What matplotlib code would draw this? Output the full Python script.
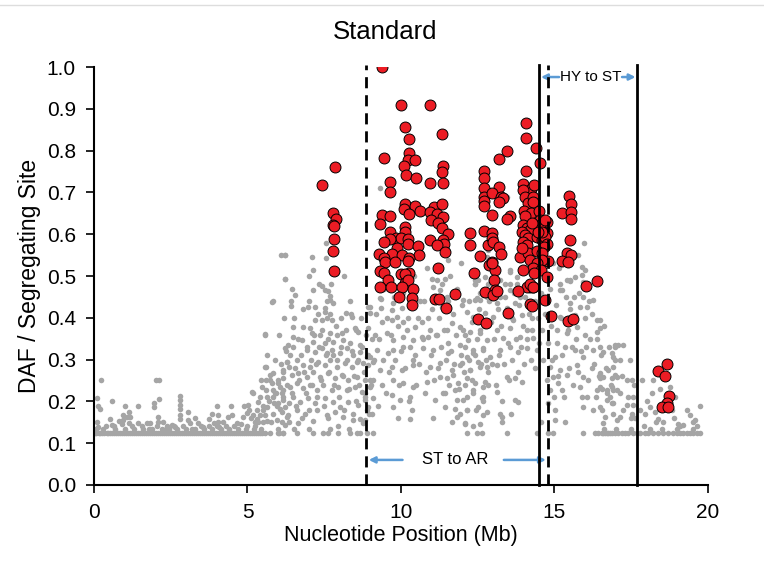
import matplotlib.pyplot as plt
from matplotlib.lines import Line2D

plt.rcParams['font.family'] = ['Liberation Sans', 'DejaVu Sans']

# baseline rows of non-significant sites (DAF ~0.125)
BASE_DAF = 0.125
BASE2_DAF = 0.133
base_x = [0.02, 0.08, 0.15, 0.21, 0.27, 0.34, 0.41, 0.47, 0.52, 0.59, 0.66, 0.72, 0.79, 0.85, 0.91,
          0.98, 1.04, 1.11, 1.18, 1.24, 1.30, 1.37, 1.43, 1.50, 1.57, 1.63, 1.69, 1.76, 1.83, 1.89,
          1.95, 2.02, 2.09, 2.15, 2.21, 2.28, 2.35, 2.41, 2.47, 2.54, 2.61, 2.67, 2.73, 2.80, 2.87,
          2.93, 2.99, 3.06, 3.13, 3.19, 3.25, 3.32, 3.39, 3.45, 3.51, 3.58, 3.65, 3.71, 3.77, 3.84,
          3.91, 3.97, 4.03, 4.10, 4.17, 4.23, 4.29, 4.36, 4.43, 4.49, 4.55, 4.62, 4.69, 4.75, 4.81,
          4.88, 4.95, 5.01, 5.07, 5.14, 5.21, 5.27, 5.33, 5.40, 5.47, 5.57, 5.73, 6.00, 6.04, 6.15,
          6.17, 6.60, 7.14, 7.47, 7.63, 7.96, 8.34, 8.56, 8.66, 8.88, 9.10, 12.14, 12.46, 12.63,
          13.44, 14.42, 14.80, 14.96, 15.94, 16.32, 16.43, 16.54, 16.59, 16.64, 16.70, 16.75, 16.81,
          16.86, 16.97, 17.08, 17.19, 17.30, 17.40, 17.57, 17.68, 17.79, 17.95, 18.06, 18.22, 18.38,
          18.55, 18.71, 18.87, 18.98, 19.09, 19.20, 19.30, 19.41, 19.52, 19.63, 19.74]
base2_x = [0.30, 0.70, 1.00, 1.30, 1.60, 1.90, 2.20, 2.45, 2.70, 3.00, 3.30, 3.60, 3.85, 4.15,
           4.40, 4.70, 4.95, 5.20, 5.45, 6.00, 6.50, 7.00, 7.70, 8.30, 16.60, 17.00, 17.50, 18.10,
           18.50, 19.00, 19.50]

# scattered sites, 0 - 6.4 Mb
low_x = [0.09, 0.14, 0.20, 0.23, 0.11, 0.14, 0.52, 0.58, 0.82, 0.95, 0.95, 1.07, 1.15, 1.17, 1.15,
         1.42, 1.42, 1.72, 1.82, 2.01, 2.13, 1.95, 1.95, 2.12, 2.09, 2.09, 2.39, 2.53, 2.64, 2.80,
         2.80, 2.80, 2.80, 2.80, 2.80, 3.07, 3.07, 3.13, 3.40, 3.56, 3.76, 3.91, 4.00, 4.05, 4.05,
         4.08, 4.21, 4.37, 4.49, 4.65, 4.86, 4.97, 5.03, 5.14, 5.19, 5.06, 5.19, 5.24, 5.30, 5.35,
         5.41, 5.30, 5.57, 5.59, 5.59, 5.59, 5.63, 5.57, 5.73, 5.79, 5.81, 5.82, 5.84, 5.87, 5.93,
         6.00, 6.06, 6.00, 6.11, 6.16, 6.22, 6.22, 6.28, 6.33, 6.16, 6.16, 6.16, 6.22, 6.11, 6.28,
         6.36, 6.36,
         0.05, 0.40, 0.65, 0.90, 1.25, 1.55, 1.80, 2.05, 2.35, 2.60, 2.90, 3.20, 3.50, 3.75, 4.00,
         4.30, 4.55, 4.80, 5.00, 5.25, 5.50, 4.90, 5.10, 5.40, 5.45, 5.50, 5.35, 3.30, 2.25, 1.00,
         0.60, 3.85, 4.45]
low_y = [0.209, 0.189, 0.181, 0.251, 0.151, 0.139, 0.157, 0.144, 0.154, 0.167, 0.156, 0.163, 0.175,
         0.163, 0.148, 0.189, 0.148, 0.148, 0.148, 0.251, 0.251, 0.197, 0.187, 0.205, 0.163, 0.151,
         0.141, 0.144, 0.139, 0.214, 0.203, 0.191, 0.183, 0.167, 0.159, 0.175, 0.156, 0.148, 0.148,
         0.139, 0.159, 0.149, 0.189, 0.167, 0.151, 0.139, 0.151, 0.163, 0.167, 0.148, 0.163, 0.173,
         0.191, 0.223, 0.219, 0.179, 0.167, 0.151, 0.179, 0.199, 0.167, 0.159, 0.360, 0.283, 0.251,
         0.227, 0.187, 0.167, 0.263, 0.243, 0.438, 0.227, 0.211, 0.195, 0.219, 0.251, 0.235, 0.195,
         0.175, 0.227, 0.550, 0.492, 0.295, 0.335, 0.275, 0.255, 0.211, 0.187, 0.151, 0.163, 0.283,
         0.195,
         0.135, 0.140, 0.140, 0.145, 0.140, 0.140, 0.135, 0.140, 0.135, 0.140, 0.140, 0.135, 0.140,
         0.140, 0.140, 0.140, 0.140, 0.145, 0.140, 0.140, 0.150, 0.190, 0.160, 0.210, 0.250, 0.190,
         0.150, 0.160, 0.150, 0.190, 0.200, 0.170, 0.190]

# rising cloud, 5.4 - 9.1 Mb
rise_x = [7.56, 7.09, 7.55, 6.22, 7.12, 8.14, 6.22, 7.42, 7.52, 7.63, 7.14, 7.69, 6.55, 5.82, 6.41,
          6.41, 6.98, 7.20, 7.52, 7.80, 7.69, 8.34, 8.94, 8.99, 7.52, 7.69, 7.58, 7.74, 8.21, 8.39,
          7.20, 7.42, 6.49, 6.82, 7.04, 7.09, 7.36, 7.69, 7.90, 8.07, 8.50, 8.61, 8.94, 5.57, 6.49,
          6.76, 7.14, 7.52, 7.80, 8.12, 8.34, 8.66, 6.22, 6.49, 6.93, 7.20, 7.42, 7.58, 7.74, 8.01,
          8.23, 8.45, 8.66, 8.99, 6.28, 6.60, 6.82, 7.04, 7.31, 7.52, 7.69, 7.90, 8.18, 8.39, 8.56,
          8.77, 9.10, 5.57, 5.84, 6.17, 6.44, 6.66, 6.93, 7.14, 7.36, 7.63, 7.85, 8.07, 8.29, 8.56,
          8.83, 9.10, 5.46, 5.73, 6.00, 6.38, 6.60, 6.82, 7.04, 7.25, 7.47, 7.74, 7.96, 8.23, 8.50,
          8.72, 8.99, 5.62, 5.89, 6.17, 6.49, 6.71, 6.98, 7.20, 7.52, 7.80, 8.01, 8.28, 8.61, 8.83,
          5.52, 5.84, 6.06, 6.33, 6.60, 6.87, 7.25, 7.58, 7.85, 8.12, 8.45, 8.66, 8.88, 5.62, 5.95,
          6.22, 6.66, 7.14, 7.63, 7.96, 8.45, 8.77,
          5.65, 5.70, 5.76, 5.90, 5.95, 6.03, 6.08, 6.12, 6.20, 6.25, 6.30, 6.35, 6.40, 6.46, 6.52,
          6.55, 6.58, 6.63, 6.68, 6.74, 6.78, 6.80, 6.85, 6.90, 6.95, 7.00, 7.02, 7.06, 7.10, 7.17,
          7.22, 7.28, 7.30, 7.34, 7.39, 7.44, 7.49, 7.55, 7.60, 7.62, 7.66, 7.72, 7.77, 7.82, 7.88,
          7.92, 7.98, 8.03, 8.06, 8.10, 8.16, 8.20, 8.25, 8.31, 8.36, 8.40, 8.47, 8.52, 8.55, 8.60,
          8.64, 8.70, 8.74, 8.79, 8.82, 8.85, 8.92, 8.97, 9.02, 9.06, 6.10, 6.45, 7.00, 7.33]
rise_y = [0.578, 0.546, 0.542, 0.550, 0.514, 0.500, 0.492, 0.475, 0.467, 0.463, 0.467, 0.452, 0.455,
          0.439, 0.439, 0.428, 0.427, 0.425, 0.424, 0.435, 0.443, 0.439, 0.427, 0.411, 0.415, 0.409,
          0.399, 0.395, 0.411, 0.403, 0.395, 0.395, 0.379, 0.377, 0.375, 0.364, 0.359, 0.363, 0.359,
          0.364, 0.375, 0.367, 0.375, 0.361, 0.355, 0.347, 0.343, 0.339, 0.343, 0.347, 0.339, 0.335,
          0.327, 0.331, 0.323, 0.319, 0.327, 0.315, 0.323, 0.315, 0.327, 0.311, 0.319, 0.307, 0.295,
          0.299, 0.287, 0.283, 0.295, 0.287, 0.299, 0.283, 0.291, 0.283, 0.295, 0.291, 0.295, 0.283,
          0.267, 0.271, 0.263, 0.267, 0.259, 0.271, 0.259, 0.267, 0.255, 0.263, 0.251, 0.259, 0.251,
          0.251, 0.235, 0.251, 0.243, 0.235, 0.243, 0.231, 0.239, 0.227, 0.239, 0.227, 0.235, 0.227,
          0.235, 0.223, 0.235, 0.211, 0.219, 0.203, 0.211, 0.199, 0.207, 0.195, 0.207, 0.199, 0.187,
          0.199, 0.191, 0.203, 0.179, 0.171, 0.183, 0.167, 0.179, 0.171, 0.179, 0.167, 0.175, 0.163,
          0.171, 0.159, 0.179, 0.152, 0.156, 0.144, 0.148, 0.152, 0.160, 0.140, 0.156, 0.148,
          0.31, 0.20, 0.15, 0.30, 0.19, 0.36, 0.29, 0.22, 0.40, 0.32, 0.24, 0.15, 0.31, 0.22, 0.40,
          0.28, 0.19, 0.35, 0.25, 0.31, 0.16, 0.42, 0.27, 0.22, 0.33, 0.18, 0.44, 0.30, 0.24, 0.36,
          0.29, 0.21, 0.41, 0.33, 0.25, 0.37, 0.19, 0.31, 0.44, 0.35, 0.27, 0.48, 0.31, 0.24, 0.38,
          0.30, 0.21, 0.40, 0.33, 0.26, 0.18, 0.37, 0.30, 0.23, 0.41, 0.32, 0.26, 0.20, 0.37, 0.30,
          0.24, 0.40, 0.33, 0.27, 0.21, 0.36, 0.31, 0.17, 0.24, 0.35, 0.55, 0.47, 0.50, 0.48]

# central cloud, 8.8 - 12.9 Mb
mid_x = [9.34, 9.34, 9.70, 9.86, 10.02, 9.37, 9.70, 10.08, 10.18, 10.46, 10.67, 10.94, 10.89, 9.15,
         9.53, 9.75, 10.08, 10.40, 10.67, 11.16, 11.49, 11.65, 11.92, 12.25, 12.57, 8.88, 9.21, 9.59,
         9.75, 10.08, 10.40, 10.73, 11.05, 11.54, 11.54, 11.92, 12.14, 12.36, 12.68, 8.94, 9.32, 9.70,
         10.02, 10.40, 10.94, 11.27, 11.65, 11.92, 12.25, 12.52, 12.79, 8.99, 9.37, 9.75, 10.08,
         10.40, 10.84, 11.27, 11.49, 11.70, 11.87, 12.14, 12.41, 12.74, 8.83, 9.10, 9.70, 9.97, 10.29,
         10.78, 11.11, 11.43, 11.76, 11.81, 12.14, 12.36, 12.68, 8.94, 9.04, 9.75, 10.35, 11.43,
         11.76, 11.92, 12.14, 12.52, 12.79, 8.83, 10.29, 11.81, 12.09, 12.57, 9.32, 11.00, 11.16,
         11.32, 11.43, 11.54, 11.05, 11.27, 11.49, 10.62, 11.32, 10.18, 9.75, 9.32, 8.99, 12.84, 12.79,
         12.41, 12.46, 12.68,
         9.12, 9.18, 9.24, 9.28, 9.42, 9.46, 9.50, 9.55, 9.62, 9.66, 9.78, 9.82, 9.90, 9.94, 10.00,
         10.05, 10.12, 10.22, 10.25, 10.30, 10.36, 10.45, 10.50, 10.55, 10.60, 10.72, 10.76, 10.80,
         10.88, 10.98, 11.02, 11.08, 11.13, 11.20, 11.24, 11.30, 11.36, 11.40, 11.46, 11.52, 11.58,
         11.62, 11.68, 11.72, 11.80, 11.84, 11.90, 11.95, 12.00, 12.05, 12.10, 12.20, 12.22, 12.30,
         12.32, 12.40, 12.44, 12.48, 12.55, 12.62, 12.66, 12.72, 12.76, 12.82, 12.88, 10.42, 10.85,
         11.60, 11.95, 9.90, 11.05, 11.65, 12.35]
mid_y = [0.444, 0.423, 0.419, 0.403, 0.423, 0.391, 0.395, 0.391, 0.371, 0.379, 0.391, 0.371, 0.355,
         0.359, 0.363, 0.347, 0.355, 0.347, 0.355, 0.359, 0.371, 0.387, 0.379, 0.367, 0.371, 0.307,
         0.323, 0.315, 0.323, 0.331, 0.299, 0.327, 0.323, 0.339, 0.315, 0.335, 0.307, 0.323, 0.327,
         0.287, 0.275, 0.283, 0.275, 0.287, 0.283, 0.291, 0.275, 0.287, 0.275, 0.295, 0.283, 0.251,
         0.239, 0.251, 0.243, 0.235, 0.247, 0.259, 0.255, 0.263, 0.243, 0.255, 0.243, 0.247, 0.219,
         0.207, 0.215, 0.203, 0.211, 0.219, 0.203, 0.219, 0.227, 0.203, 0.211, 0.219, 0.211, 0.187,
         0.171, 0.187, 0.179, 0.187, 0.183, 0.171, 0.179, 0.187, 0.175, 0.156, 0.157, 0.163, 0.147,
         0.147, 0.710, 0.494, 0.490, 0.482, 0.494, 0.538, 0.474, 0.466, 0.450, 0.439, 0.427, 0.482,
         0.435, 0.447, 0.427, 0.562, 0.546, 0.490, 0.447, 0.455,
         0.30, 0.41, 0.19, 0.35, 0.30, 0.47, 0.22, 0.40, 0.27, 0.36, 0.45, 0.30, 0.38, 0.24, 0.32,
         0.46, 0.28, 0.40, 0.20, 0.33, 0.43, 0.31, 0.24, 0.40, 0.29, 0.35, 0.44, 0.27, 0.40, 0.31,
         0.42, 0.25, 0.36, 0.28, 0.40, 0.33, 0.22, 0.37, 0.30, 0.44, 0.24, 0.32, 0.41, 0.29, 0.36,
         0.47, 0.23, 0.31, 0.43, 0.27, 0.36, 0.30, 0.44, 0.25, 0.39, 0.31, 0.18, 0.35, 0.42, 0.29,
         0.20, 0.38, 0.30, 0.24, 0.44, 0.50, 0.52, 0.50, 0.53, 0.16, 0.16, 0.15, 0.14]

# right cloud, 12 - 17.1 Mb
right_x = [13.55, 13.77, 13.55, 12.41, 12.41, 12.57, 12.03, 15.18, 15.18, 15.50, 15.89, 15.94, 16.27,
           15.83, 15.67, 15.18, 12.14, 12.36, 12.74, 13.01, 13.44, 13.66, 13.93, 14.26, 12.03, 12.19,
           12.57, 12.79, 13.12, 13.33, 13.55, 13.88, 14.09, 14.31, 15.07, 15.40, 15.72, 15.99, 16.37,
           16.37, 16.97, 12.09, 12.36, 12.68, 12.90, 13.22, 13.55, 13.82, 14.09, 14.42, 15.02, 15.34,
           15.67, 15.94, 16.27, 16.59, 16.92, 11.98, 12.25, 12.57, 12.84, 13.12, 13.44, 13.71, 13.93,
           14.85, 14.96, 15.18, 15.40, 15.72, 15.94, 16.21, 16.48, 16.75, 17.03, 12.09, 12.36, 12.68,
           13.12, 14.85, 15.13, 15.23, 15.83, 16.05, 16.37, 16.70, 16.92, 12.03, 12.14, 12.63, 13.71,
           13.82, 14.80, 15.02, 15.94, 16.27, 16.48, 16.86, 12.09, 12.68, 13.22, 13.28, 15.02, 16.64,
           16.59, 17.03, 15.89, 15.99, 15.67, 15.50, 15.40, 15.23, 15.94, 15.50, 16.05, 12.41, 12.41,
           12.52, 12.74, 12.84, 12.79, 12.57, 13.22, 13.39, 13.22, 13.12, 13.55, 13.55, 13.77, 13.88,
           13.71, 13.44,
           12.94, 12.97, 13.03, 13.08, 13.15, 13.18, 13.26, 13.30, 13.36, 13.40, 13.48, 13.52, 13.60,
           13.63, 13.68, 13.74, 13.80, 13.85, 13.90, 13.96, 14.00, 14.05, 14.12, 14.18, 14.22, 14.28,
           14.35, 14.38, 14.45, 14.48, 14.55, 14.60, 14.64, 14.70, 14.74, 14.78, 14.84, 14.90, 14.93,
           14.98, 15.04, 15.08, 15.12, 15.16, 15.22, 15.26, 15.30, 15.36, 15.44, 15.48, 15.52, 15.56,
           15.60, 15.64, 15.70, 15.76, 15.80, 15.86, 15.90, 15.98, 16.02, 16.08, 16.12, 16.16, 16.22,
           16.30, 16.34, 16.40, 16.45, 16.52, 16.56, 16.62, 16.68, 16.78, 16.84, 15.78, 15.95, 14.95,
           13.30, 13.58, 14.55, 15.35]
right_y = [0.510, 0.498, 0.482, 0.482, 0.443, 0.459, 0.443, 0.466, 0.482, 0.490, 0.502, 0.486, 0.443,
           0.427, 0.407, 0.403, 0.415, 0.403, 0.411, 0.403, 0.423, 0.395, 0.407, 0.399, 0.371, 0.347,
           0.363, 0.347, 0.371, 0.351, 0.375, 0.355, 0.371, 0.351, 0.371, 0.363, 0.379, 0.359, 0.395,
           0.367, 0.331, 0.331, 0.315, 0.323, 0.307, 0.323, 0.331, 0.319, 0.327, 0.323, 0.307, 0.331,
           0.323, 0.307, 0.323, 0.319, 0.307, 0.291, 0.275, 0.283, 0.271, 0.287, 0.259, 0.255, 0.247,
           0.283, 0.259, 0.275, 0.263, 0.287, 0.259, 0.279, 0.255, 0.275, 0.259, 0.239, 0.227, 0.235,
           0.223, 0.227, 0.243, 0.227, 0.235, 0.211, 0.227, 0.219, 0.227, 0.203, 0.179, 0.207, 0.203,
           0.199, 0.195, 0.179, 0.187, 0.179, 0.187, 0.195, 0.148, 0.167, 0.171, 0.163, 0.156, 0.163,
           0.148, 0.156, 0.522, 0.514, 0.498, 0.489, 0.490, 0.466, 0.450, 0.435, 0.427, 0.510, 0.482,
           0.490, 0.498, 0.482, 0.450, 0.443, 0.490, 0.482, 0.450, 0.435, 0.466, 0.514, 0.482, 0.450,
           0.435, 0.690,
           0.39, 0.29, 0.35, 0.24, 0.42, 0.31, 0.38, 0.20, 0.29, 0.45, 0.34, 0.25, 0.40, 0.30, 0.46,
           0.35, 0.27, 0.43, 0.33, 0.38, 0.29, 0.45, 0.35, 0.41, 0.30, 0.37, 0.44, 0.28, 0.40, 0.34,
           0.46, 0.37, 0.30, 0.41, 0.25, 0.34, 0.47, 0.38, 0.30, 0.21, 0.43, 0.34, 0.26, 0.52, 0.40,
           0.31, 0.21, 0.45, 0.37, 0.28, 0.42, 0.33, 0.24, 0.45, 0.35, 0.27, 0.46, 0.32, 0.21, 0.40,
           0.33, 0.25, 0.44, 0.35, 0.41, 0.29, 0.21, 0.35, 0.26, 0.31, 0.23, 0.38, 0.28, 0.33, 0.24,
           0.55, 0.58, 0.53, 0.15, 0.17, 0.15, 0.15]

# tail, 16.5 - 20 Mb
tail_x = [16.48, 16.48, 16.48, 16.97, 17.08, 16.86, 16.97, 16.92, 16.48, 16.59, 16.86, 16.97, 17.35,
          17.51, 16.48, 16.70, 16.86, 17.03, 16.81, 17.13, 17.40, 17.57, 16.70, 16.92, 17.35, 17.57,
          16.54, 16.92, 17.24, 17.13, 17.51, 17.95, 18.22, 18.17, 18.11, 18.27, 18.38, 18.76, 18.93,
          18.82, 19.03, 19.41, 19.58, 19.74, 19.20, 17.23,
          17.15, 17.20, 17.45, 17.48, 17.60, 17.62, 17.80, 17.85, 17.90, 18.00, 18.30, 18.45, 18.55,
          18.90, 19.10, 19.30, 19.50, 19.65]
tail_y = [0.395, 0.375, 0.331, 0.335, 0.335, 0.315, 0.299, 0.283, 0.267, 0.259, 0.255, 0.263, 0.251,
          0.251, 0.235, 0.227, 0.235, 0.227, 0.211, 0.219, 0.211, 0.211, 0.203, 0.195, 0.191, 0.191,
          0.179, 0.171, 0.179, 0.163, 0.171, 0.171, 0.251, 0.219, 0.187, 0.175, 0.159, 0.235, 0.211,
          0.179, 0.147, 0.167, 0.155, 0.189, 0.143, 0.335,
          0.30, 0.26, 0.30, 0.16, 0.24, 0.16, 0.18, 0.25, 0.14, 0.20, 0.15, 0.23, 0.15, 0.16, 0.14,
          0.18, 0.15, 0.14]

# significant sites (red)
sig_x = [7.44, 7.85, 7.80, 7.88, 7.79, 7.81, 7.82, 7.80, 7.83,
         9.39, 9.99, 10.94, 10.12, 10.25, 11.34, 9.45, 10.25, 10.22, 10.46, 10.11, 11.36, 11.34, 10.15,
         10.50, 9.63, 10.94, 11.38, 9.64, 10.14, 10.47, 11.07, 10.11, 10.62, 10.95, 11.33, 10.25, 9.39,
         9.64, 11.18, 11.36, 10.97, 11.20, 9.32, 10.13, 11.35, 9.64, 10.14, 11.54, 12.26, 9.84, 9.99,
         10.22, 9.64, 9.45, 10.22, 10.94, 11.38, 11.41, 11.18, 12.26, 12.83, 10.55, 9.86, 9.29, 9.71,
         10.02, 10.59, 11.44, 9.45, 10.27, 9.48, 9.81, 10.23, 12.58, 12.86, 9.32, 9.46, 10.01, 10.25,
         10.12, 12.38, 9.57, 10.13, 10.23, 9.32, 9.66, 10.03, 10.40, 11.20, 9.93, 10.37, 10.37, 11.11,
         11.25, 11.75, 11.48, 12.74, 12.70, 12.70, 12.70, 12.70, 12.70, 12.70, 12.70, 12.52, 12.77,
         14.08, 14.08, 14.40, 13.44, 13.20, 14.53, 14.08, 13.20, 12.98, 13.25, 13.31, 13.20, 13.98,
         14.23, 14.33, 13.98, 14.04, 14.15, 14.31, 14.31, 12.98, 13.55, 13.44, 14.02, 14.22, 14.04,
         14.50, 15.26, 15.48, 15.54, 15.54, 15.54, 14.77, 14.77, 13.98, 14.09, 14.20, 13.95, 14.04,
         14.15, 13.98, 14.09, 14.42, 14.58, 14.69, 14.77, 14.66, 12.98, 12.98, 13.00, 13.20, 13.25,
         12.95, 13.06, 15.50, 15.42, 15.54, 15.23, 15.43, 13.88, 14.15, 14.20, 13.93, 14.44, 14.58,
         14.80, 14.58, 14.42, 14.29, 14.56, 14.77, 13.98, 14.33, 13.04, 14.20, 14.09, 14.29, 13.82,
         13.06, 13.00, 14.69, 14.20, 14.26, 16.04, 16.37, 12.98, 13.12, 14.20, 14.31, 13.50, 14.87,
         15.45, 15.61, 14.53, 14.53, 14.58, 14.47, 14.26, 14.69,
         18.65, 18.38, 18.60, 18.72, 18.65, 18.50, 18.69]
sig_y = [0.718, 0.761, 0.651, 0.636, 0.622, 0.620, 0.589, 0.561, 0.513,
         1.000, 0.909, 0.909, 0.856, 0.828, 0.839, 0.783, 0.795, 0.778, 0.778, 0.764, 0.763, 0.750, 0.742,
         0.734, 0.724, 0.722, 0.722, 0.701, 0.672, 0.668, 0.664, 0.660, 0.656, 0.654, 0.672, 0.648, 0.646,
         0.644, 0.648, 0.642, 0.634, 0.626, 0.624, 0.618, 0.614, 0.605, 0.605, 0.600, 0.602, 0.592, 0.592,
         0.589, 0.589, 0.581, 0.577, 0.585, 0.586, 0.577, 0.574, 0.574, 0.574, 0.572, 0.568, 0.553, 0.553,
         0.550, 0.550, 0.557, 0.542, 0.542, 0.533, 0.534, 0.536, 0.549, 0.526, 0.512, 0.506, 0.505, 0.508,
         0.505, 0.508, 0.490, 0.484, 0.490, 0.474, 0.474, 0.474, 0.469, 0.520, 0.450, 0.447, 0.431, 0.444,
         0.444, 0.457, 0.423, 0.462, 0.752, 0.734, 0.710, 0.690, 0.680, 0.667, 0.608, 0.396, 0.387,
         0.865, 0.831, 0.807, 0.800, 0.779, 0.770, 0.752, 0.714, 0.698, 0.690, 0.686, 0.677, 0.719,
         0.707, 0.718, 0.706, 0.690, 0.674, 0.690, 0.678, 0.646, 0.644, 0.636, 0.656, 0.650, 0.644,
         0.656, 0.651, 0.691, 0.672, 0.654, 0.636, 0.630, 0.604, 0.622, 0.616, 0.610, 0.606, 0.598,
         0.590, 0.582, 0.574, 0.594, 0.586, 0.594, 0.577, 0.570, 0.604, 0.590, 0.582, 0.570, 0.552,
         0.534, 0.514, 0.585, 0.556, 0.550, 0.537, 0.534, 0.546, 0.554, 0.538, 0.566, 0.560, 0.554,
         0.537, 0.538, 0.530, 0.518, 0.514, 0.498, 0.514, 0.506, 0.490, 0.473, 0.473, 0.473, 0.465,
         0.466, 0.455, 0.443, 0.433, 0.428, 0.476, 0.488, 0.532, 0.465, 0.480, 0.474, 0.411, 0.405,
         0.392, 0.397, 0.634, 0.622, 0.606, 0.606, 0.626, 0.634,
         0.289, 0.273, 0.261, 0.213, 0.195, 0.187, 0.187]

# breakpoints (Mb)
dashed_lines = [8.86, 14.79]
solid_lines = [14.50, 17.69]

fig = plt.figure(figsize=(7.64, 5.65), dpi=100)
ax = fig.add_axes([0.123, 0.1416, 0.8037, 0.7398])

gray = '#a5a5a5'
gs = 16
ax.scatter(base_x, [BASE_DAF] * len(base_x), s=gs, color=gray, linewidths=0, zorder=2)
ax.scatter(base2_x, [BASE2_DAF] * len(base2_x), s=gs, color=gray, linewidths=0, zorder=2)
for xs, ys in [(low_x, low_y), (rise_x, rise_y), (mid_x, mid_y), (right_x, right_y), (tail_x, tail_y)]:
    ax.scatter(xs, ys, s=gs, color=gray, linewidths=0, zorder=2)

ax.scatter(sig_x, sig_y, s=62, color='#ec1c24', edgecolors='black', linewidths=0.7, zorder=4)

for x in dashed_lines:
    ax.plot([x, x], [0, 1.005], color='black', lw=2, ls=(0, (4, 2.5)), clip_on=False, zorder=5)
for x in solid_lines:
    ax.plot([x, x], [0, 1.005], color='black', lw=2, clip_on=False, zorder=5)

blue = '#5b9bd5'
arrow = dict(arrowstyle='-|>', color=blue, lw=1.8, mutation_scale=9, shrinkA=0, shrinkB=0)
ax.annotate('', xy=(8.95, 0.06), xytext=(10.05, 0.06), arrowprops=arrow)
ax.annotate('', xy=(14.72, 0.06), xytext=(13.35, 0.06), arrowprops=arrow)
ax.text(11.76, 0.06, 'ST to AR', ha='center', va='center', fontsize=12)
ax.annotate('', xy=(14.56, 0.976), xytext=(15.15, 0.976), arrowprops=arrow)
ax.annotate('', xy=(17.64, 0.976), xytext=(17.2, 0.976), arrowprops=arrow)
ax.text(16.18, 0.976, 'HY to ST', ha='center', va='center', fontsize=11)

ax.set_xlim(0, 20)
ax.set_ylim(0, 1.0)
ax.set_xticks([0, 5, 10, 15, 20])
ax.set_yticks([i / 10 for i in range(11)])
ax.set_yticklabels(['%.1f' % (i / 10) for i in range(11)])
ax.tick_params(direction='out', length=6, width=1.2, labelsize=15, colors='black', pad=7)
for side in ['top', 'right']:
    ax.spines[side].set_visible(False)
for side in ['left', 'bottom']:
    ax.spines[side].set_linewidth(1.5)

ax.set_xlabel('Nucleotide Position (Mb)', fontsize=15.5, labelpad=2)
ax.set_ylabel('DAF / Segregating Site', fontsize=16.5, labelpad=4)
ax.set_title('Standard', fontsize=18.5, pad=20, x=0.474)

fig.add_artist(Line2D([0, 1], [0.991, 0.991], color='#dddddd', lw=1))

fig.savefig('out.png', dpi=100)
